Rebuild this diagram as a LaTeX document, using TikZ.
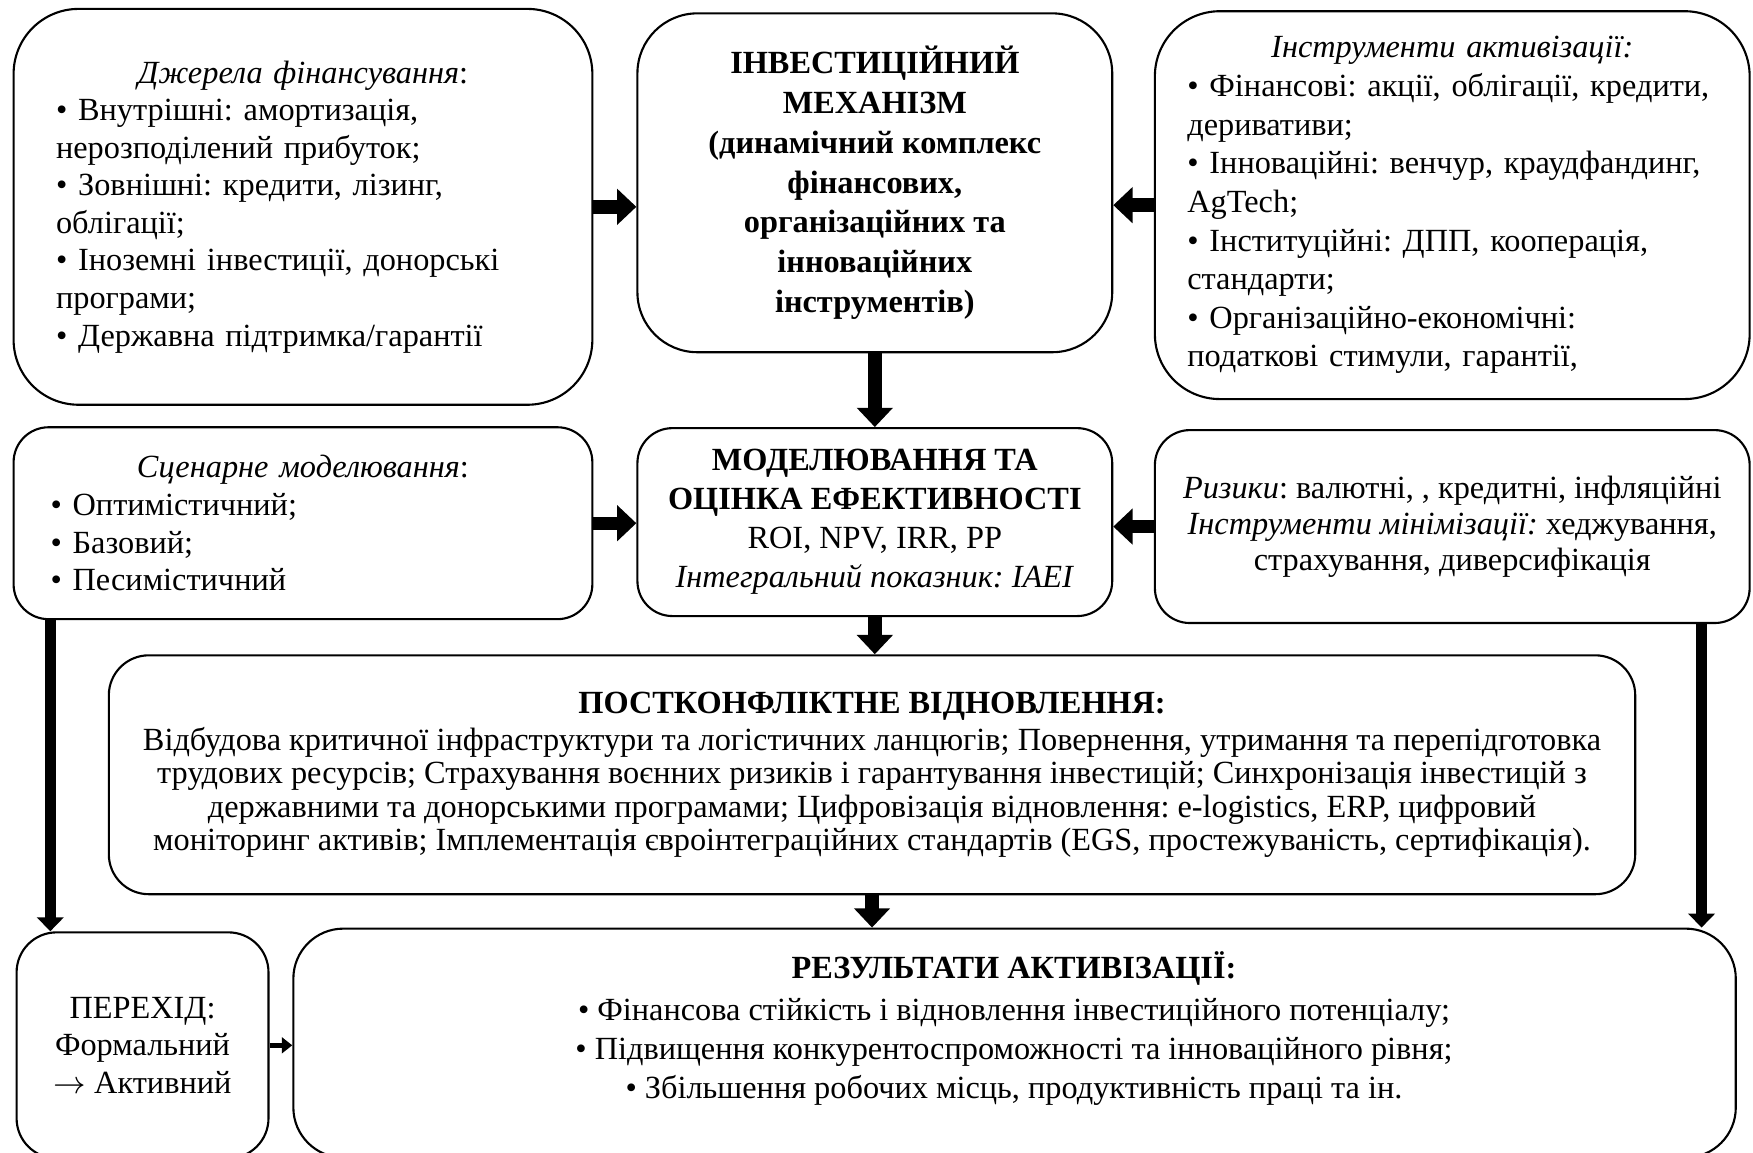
\documentclass[tikz,border=0pt]{standalone}
\usepackage{fontspec}
\setmainfont{Liberation Serif}
\usetikzlibrary{arrows.meta}
\frenchspacing

\begin{document}
\begin{tikzpicture}[x=0.01118cm,y=-0.01118cm,
  panel/.style={draw,line width=0.6pt,inner sep=1pt,font=\fontsize{9.2}{#1}\selectfont},
  fat/.style={line width=3.8pt,-{Triangle[length=5.5pt,width=10pt]}},
  slim/.style={line width=3pt,-{Triangle[length=4pt,width=7.5pt]}},
  thin/.style={line width=1.3pt,-{Triangle[length=3pt,width=4.5pt]}}]

\path[use as bounding box] (0,0) rectangle (1568,1031);
\clip (0,0) rectangle (1568,1031);

\node[panel=10.7,rounded corners=0.65cm,minimum width=5.79cm,minimum height=3.96cm,
  text width=4.94cm,align=left] (src) at (271,185)
  {\makebox[\hsize]{\textit{Джерела фінансування}:}\\
   • Внутрішні: амортизація,\\ нерозподілений прибуток;\\
   • Зовнішні: кредити, лізинг,\\ облігації;\\
   • Іноземні інвестиції, донорські\\ програми;\\
   • Державна підтримка/гарантії};

\node[panel=11.3,rounded corners=0.6cm,minimum width=4.75cm,minimum height=3.39cm,
  align=center,font=\fontsize{9.2}{11.3}\selectfont\bfseries] (mech) at (782.5,163.5)
  {ІНВЕСТИЦІЙНИЙ\\ МЕХАНІЗМ\\ (динамічний комплекс\\ фінансових,\\
   організаційних та\\ інноваційних\\ інструментів)};

\node[panel=11,rounded corners=0.65cm,minimum width=5.95cm,minimum height=3.88cm,
  text width=5.3cm,align=left] (tools) at (1299,183.5)
  {\makebox[\hsize]{\textit{Інструменти активізації:}}\\
   • Фінансові: акції, облігації, кредити,\\ деривативи;\\
   • Інноваційні: венчур, краудфандинг,\\ AgTech;\\
   • Інституційні: ДПП, кооперація,\\ стандарти;\\
   • Організаційно-економічні:\\ податкові стимули, гарантії,};

\node[panel=10.7,rounded corners=0.35cm,minimum width=5.79cm,minimum height=1.92cm,
  text width=5.05cm,align=left] (scen) at (271,468)
  {\makebox[\hsize]{\textit{Сценарне моделювання}:}\\
   • Оптимістичний;\\ • Базовий;\\ • Песимістичний};

\node[panel=11.1,rounded corners=0.35cm,minimum width=4.75cm,minimum height=1.88cm,
  align=center] (model) at (782.5,467)
  {\textbf{МОДЕЛЮВАННЯ ТА}\\ \textbf{ОЦІНКА ЕФЕКТИВНОСТІ}\\ ROI, NPV, IRR, PP\\
   \textit{Інтегральний показник: IAEI}};

\node[panel=10.3,rounded corners=0.35cm,minimum width=5.95cm,minimum height=1.93cm,
  align=center] (risk) at (1299,471)
  {\textit{Ризики}: валютні, , кредитні, інфляційні\\
   \textit{Інструменти мінімізації:} хеджування,\\
   страхування, диверсифікація};

\node[panel=9.5,rounded corners=0.4cm,minimum width=15.27cm,minimum height=2.39cm,
  align=center] (post) at (780,693)
  {\textbf{ПОСТКОНФЛІКТНЕ ВІДНОВЛЕННЯ:}\\[1pt]
   Відбудова критичної інфраструктури та логістичних ланцюгів; Повернення, утримання та перепідготовка\\
   трудових ресурсів; Страхування воєнних ризиків і гарантування інвестицій; Синхронізація інвестицій з\\
   державними та донорськими програмами; Цифровізація відновлення: e-logistics, ERP, цифровий\\
   моніторинг активів; Імплементація євроінтеграційних стандартів (EGS, простежуваність, сертифікація).};

\node[panel=10.6,rounded corners=0.4cm,minimum width=2.52cm,minimum height=2.26cm,
  align=center] (trans) at (127.5,935)
  {ПЕРЕХІД:\\ Формальний\\ $\rightarrow$ Активний};

\node[panel=11,rounded corners=0.5cm,minimum width=14.43cm,minimum height=2.29cm]
  (res) at (907.5,933) {};
\node[font=\fontsize{9.2}{11.1}\selectfont,align=center] (res text) at (907,920)
  {\textbf{РЕЗУЛЬТАТИ АКТИВІЗАЦІЇ:}\\[1pt]
   • Фінансова стійкість і відновлення інвестиційного потенціалу;\\
   • Підвищення конкурентоспроможності та інноваційного рівня;\\
   • Збільшення робочих місць, продуктивність праці та ін.};

\coordinate (drop left) at (45,0);
\coordinate (drop right) at (1522,0);

\draw[fat] (src.east) -- (src.east -| mech.west);
\draw[fat] (tools.west) -- (tools.west -| mech.east);
\draw[fat] (mech.south) -- (model.north);
\draw[fat] (scen.east) -- (scen.east -| model.west);
\draw[fat] (risk.west) -- (risk.west -| model.east);
\draw[fat] (model.south) -- (model.south |- post.north);
\draw[fat] (post.south) -- (post.south |- res.north);
\draw[slim] (drop left |- scen.south) -- (drop left |- trans.north);
\draw[slim] (drop right |- risk.south) -- (drop right |- res.north);
\draw[thin] (trans.east) -- (trans.east -| res.west);
\end{tikzpicture}
\end{document}
